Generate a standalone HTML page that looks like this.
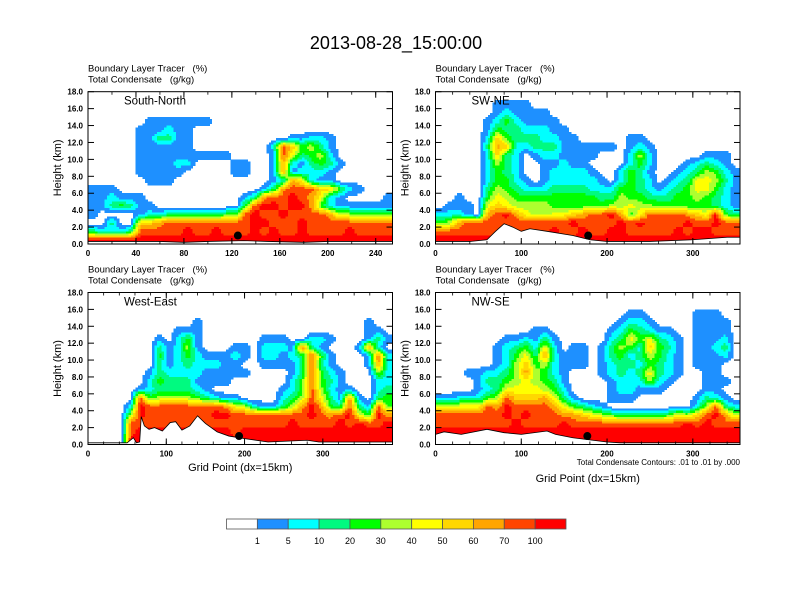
<!DOCTYPE html>
<html><head><meta charset="utf-8"><style>
html,body{margin:0;padding:0;background:#fff;}
svg{display:block;font-family:"Liberation Sans",Arial,sans-serif;}
text{white-space:pre;}
</style></head><body>
<svg id="chart" width="792" height="612" viewBox="0 0 792 612" xmlns="http://www.w3.org/2000/svg">
<text x="396" y="49" font-size="18" text-anchor="middle">2013-08-28_15:00:00</text>
<g id="panels"></g>
<g id="colorbar"></g>
</svg>
<script>
// ---- color levels ----
const levelColors = ["#ffffff","#1e90ff","#00ffff","#00fa80","#00ff00","#adff2f","#ffff00","#ffd700","#ffa500","#ff4500","#ff0000"];
const levelLabels = ["1","5","10","20","30","40","50","60","70","100"];

// ---- panel data: rows from 17-18 km (top) down to 0-1 km; codes 0..a = level index ----
const snRows = [
"00000000000000000000000000000000",
"00000000000000000000000000000000",
"00000000000000000000000000000000",
"00000011111110000000000000000000",
"00000111211000000000000000000000",
"00000113311000000000011221000000",
"00000111111000000002974531000000",
"00000111111111100001963452000000",
"00000111122000011001821343100000",
"00000111110000011001812221000000",
"00000011100000000001286211000000",
"11100000000000000013899977421000",
"112111000000000013899a9862100001",
"113431100000000049aa9aa842111111",
"10000122333333449a99a99998554444",
"00300778999999999aa999a999999999",
"3222399999a99a999a9a99a9999a9999",
"aaaaaaaaaaaaaaaaaaaaaaaaaaaaaaaa"
];
const swneRows = [
"00000000000000000000000000000000",
"00000011110000000000000000000000",
"00000012111100000000000000000000",
"00000124211110000000000000000000",
"00000143322211000000000000000000",
"00000274333221100000110000000000",
"00000387223331111110121000000000",
"00000273201221111000252000001110",
"00000253200112110000242000123210",
"00000243200122221002431001235421",
"00000244210122222102432012366531",
"00000354322233332224432123466421",
"00100465444444444335443334454321",
"01110676555544444455655444444321",
"2221089a8655667899a8469999876a43",
"45899999999999a9999a9a9999a99a99",
"9999999a9999a99a99aa99999a9aa999",
"aaaaaaaaaaaaaaaaaaaaaaaaaaaaaaaa"
];
const weRows = [
"00000000000000000000000000000000",
"00000000000000000000000000000000",
"00000000000000000000000000000000",
"00000000000100000000000000000100",
"00000000011100000000000000000110",
"00000001024100000011100221000131",
"00000003125100011022219310001820",
"00000004124211121022123941000192",
"00000003123222110011113931000182",
"00000013222211111000013942100052",
"00000024333111100000024943100022",
"00000123333210000000124952110023",
"00000945555432110000235963181034",
"00002a99999999865211358a84393194",
"00005a9999999aa99999999a989a64a8",
"00009999999a999999999a9999a9a99a",
"00009aaaaaaaaaa9aaaaaaaaaaaaaaaa",
"0000aaaaaaaaaaaaaaaaaaaaaaaaaaaa"
];
const nwseRows = [
"00000000000000000000000000000000",
"00000000000000000000000000000000",
"00000000000000000000110000011100",
"00000000000000000001221000011110",
"00000000001100000012432110011110",
"00000001121310000023646321011120",
"00000012342620110135427431011230",
"00000012463821110134235421011120",
"00000012574521110123324321011100",
"00011223585421000123236321001100",
"00001334565431000012225210001110",
"00001236666542000012211100001100",
"11222459777863100011100000013210",
"5566698a999986432100000000025932",
"9999999a9a9998876543333346579a85",
"99999999a9999a999999999999a9a999",
"aaaaaaaaaaaaaaaaaaaaaaaaaaaaaaaa",
"aaaaaaaaaaaaaaaaaaaaaaaaaaaaaaaa"
];

// ---- terrain heights (km) along grid points ----
const snTerrainX = [0,60,80,100,130,150,180,200,254];
const snTerrainH = [0.3,0.3,0.2,0.3,0.4,0.3,0.2,0.3,0.3];
const swneTerrainX = [0,40,60,70,80,90,100,110,130,160,180,200,250,300,340,355];
const swneTerrainH = [0.3,0.3,0.5,1.5,2.4,2.0,1.5,1.8,1.5,1.0,0.5,0.3,0.3,0.5,0.8,0.8];
const weTerrainX = [0,50,58,62,66,68,72,78,85,95,105,112,120,130,140,150,165,180,200,230,280,295,389];
const weTerrainH = [0.2,0.2,0.8,0.2,0.3,3.3,2.2,1.8,2.0,1.6,2.6,2.7,1.7,2.2,3.4,2.5,1.5,1.0,0.7,0.3,0.5,0.3,0.3];
const nwseTerrainX = [0,10,30,60,80,100,130,140,160,200,215,355];
const nwseTerrainH = [1.2,1.5,1.2,1.8,1.4,1.2,1.6,1.2,0.8,0.3,0.2,0.2];

// ---- site markers ----
const siteX = [125,178,193,177];
const siteH = [1.0,1.0,1.0,1.0];

// ---- axes ----
const yTickValues = [0,2,4,6,8,10,12,14,16,18];
const yTickLabels = ["0.0","2.0","4.0","6.0","8.0","10.0","12.0","14.0","16.0","18.0"];
const snXTicks = [0,40,80,120,160,200,240];
const xTicks300 = [0,100,200,300];
const panelTitles = ["South-North","SW-NE","West-East","NW-SE"];

const NS = "http://www.w3.org/2000/svg";
function mk(tag, attrs, parent){
  const e = document.createElementNS(NS, tag);
  for (const k in attrs) e.setAttribute(k, attrs[k]);
  if (parent) parent.appendChild(e);
  return e;
}

const panelsG = document.getElementById('panels');
const geoms = [
  {x0:88,x1:392.5,y0:91.7,y1:244,xmax:254,ticks:snXTicks,minor:20,rows:snRows,tx:snTerrainX,th:snTerrainH,xlabel:null},
  {x0:435.5,x1:740,y0:91.7,y1:244,xmax:355,ticks:xTicks300,minor:20,rows:swneRows,tx:swneTerrainX,th:swneTerrainH,xlabel:null},
  {x0:88,x1:392.5,y0:292.5,y1:444.5,xmax:389,ticks:xTicks300,minor:20,rows:weRows,tx:weTerrainX,th:weTerrainH,xlabel:467},
  {x0:435.5,x1:740,y0:292.5,y1:444.5,xmax:355,ticks:xTicks300,minor:20,rows:nwseRows,tx:nwseTerrainX,th:nwseTerrainH,xlabel:478}
];
const names = ["south-north","sw-ne","west-east","nw-se"];
const SUB = 4;

geoms.forEach((g, p) => {
  const xs = v => g.x0 + (g.x1 - g.x0) * v / g.xmax;
  const ys = h => g.y1 - (g.y1 - g.y0) * h / 18;
  const pg = mk('g', {}, panelsG);
  
  

  const clipId = 'clip' + p;
  const cp = mk('clipPath', {id: clipId}, pg);
  mk('rect', {x:g.x0, y:g.y0, width:g.x1-g.x0, height:g.y1-g.y0}, cp);

  const clipG = mk('g', {'clip-path':'url(#'+clipId+')'}, pg);
  const heat = mk('g', {'shape-rendering':'crispEdges'}, clipG);
  
  
  const ncol = 32, nrow = g.rows.length;
  const grid = g.rows.map(r => {
    const a = [];
    for (let c = 0; c < ncol; c++) { const ch = r[c] !== undefined ? r[c] : r[r.length-1]; a.push(parseInt(ch, 16) || 0); }
    return a;
  });
  const val = (r, c) => grid[Math.max(0, Math.min(nrow-1, r))][Math.max(0, Math.min(ncol-1, c))];
  const interp = (fy, fx) => {
    const r0 = Math.floor(fy), c0 = Math.floor(fx), ty = fy - r0, tx = fx - c0;
    return val(r0,c0)*(1-ty)*(1-tx) + val(r0,c0+1)*(1-ty)*tx + val(r0+1,c0)*ty*(1-tx) + val(r0+1,c0+1)*ty*tx;
  };
  const nx = ncol*SUB, ny = nrow*SUB;
  const cw = (g.x1 - g.x0) / nx, chh = (g.y1 - g.y0) / ny;
  for (let j = 0; j < ny; j++) {
    const fy = (j + 0.5) / SUB - 0.5;
    let start = 0, cur = -1;
    for (let i = 0; i <= nx; i++) {
      let lv = -2;
      if (i < nx) { const fx = (i + 0.5) / SUB - 0.5; lv = Math.round(interp(fy, fx)); }
      if (lv !== cur) {
        if (cur > 0) {
          const cell = mk('rect', {x:g.x0 + start*cw, y:g.y0 + j*chh, width:(i-start)*cw + 0.5, height:chh + 0.5, fill:levelColors[cur]}, heat);
          
          
        }
        cur = lv; start = i;
      }
    }
  }
  let d = 'M' + xs(0) + ',' + ys(0);
  g.tx.forEach((v, i) => { d += ' L' + xs(v) + ',' + ys(g.th[i]); });
  d += ' L' + xs(g.xmax) + ',' + ys(0) + ' Z';
  const ter = mk('path', {d:d, fill:'#fff', stroke:'#000', 'stroke-width':0.8}, clipG);
  
  
  const dot = mk('circle', {cx:xs(siteX[p]), cy:ys(siteH[p]), r:4, fill:'#000'}, clipG);
  
  

  const fr = mk('rect', {x:g.x0, y:g.y0, width:g.x1-g.x0, height:g.y1-g.y0, fill:'none', stroke:'#000', 'stroke-width':1}, pg);
  
  

  yTickValues.forEach((v, i) => {
    const y = ys(v);
    mk('line', {x1:g.x0, x2:g.x0+6, y1:y, y2:y, stroke:'#000', 'stroke-width':1}, pg);
    mk('line', {x1:g.x1, x2:g.x1-6, y1:y, y2:y, stroke:'#000', 'stroke-width':1}, pg);
    const t = mk('text', {x:g.x0-5, y:y+3, 'font-size':8, 'text-anchor':'end', 'font-weight':'bold'}, pg);
    t.textContent = yTickLabels[i];
    
    
  });
  for (let v = 0; v <= g.xmax; v += g.minor) {
    const x = xs(v);
    mk('line', {x1:x, x2:x, y1:g.y1, y2:g.y1-3, stroke:'#000', 'stroke-width':0.8}, pg);
    mk('line', {x1:x, x2:x, y1:g.y0, y2:g.y0+3, stroke:'#000', 'stroke-width':0.8}, pg);
  }
  g.ticks.forEach(v => {
    const x = xs(v);
    mk('line', {x1:x, x2:x, y1:g.y1, y2:g.y1-6, stroke:'#000', 'stroke-width':1}, pg);
    mk('line', {x1:x, x2:x, y1:g.y0, y2:g.y0+6, stroke:'#000', 'stroke-width':1}, pg);
    const t = mk('text', {x:x, y:g.y1+12, 'font-size':8, 'text-anchor':'middle', 'font-weight':'bold'}, pg);
    t.textContent = String(v);
    
    
  });
  const l1 = mk('text', {x:g.x0, y:g.y0-20, 'font-size':9.5}, pg);
  l1.textContent = 'Boundary Layer Tracer   (%)';
  
  
  const l2 = mk('text', {x:g.x0, y:g.y0-9, 'font-size':9.5}, pg);
  l2.textContent = 'Total Condensate   (g/kg)';
  
  
  const pt = mk('text', {x:g.x0 + 36, y:g.y0 + 13, 'font-size':11.5}, pg);
  pt.textContent = panelTitles[p];
  
  
  const yc = (g.y0 + g.y1) / 2;
  const ya = mk('text', {x:g.x0-27, y:yc, 'font-size':11, 'text-anchor':'middle', transform:'rotate(-90 '+(g.x0-27)+' '+yc+')'}, pg);
  ya.textContent = 'Height (km)';
  
  
  if (g.xlabel) {
    const xl = mk('text', {x:(g.x0+g.x1)/2, y:g.xlabel+4, 'font-size':11, 'text-anchor':'middle'}, pg);
    xl.textContent = 'Grid Point (dx=15km)';
    
    
  }
});
const note = mk('text', {x:740, y:465, 'font-size':8, 'text-anchor':'end'}, panelsG);
note.textContent = 'Total Condensate Contours: .01 to .01 by .000';



const cb = document.getElementById('colorbar');
const cbX0 = 226.5, cbX1 = 566, cbY = 519, cbH = 10;
const bw = (cbX1 - cbX0) / levelColors.length;
levelColors.forEach((c, i) => {
  const r = mk('rect', {x:cbX0 + i*bw, y:cbY, width:bw, height:cbH, fill:c, stroke:'#555', 'stroke-width':0.8}, cb);
  
  
});
levelLabels.forEach((s, i) => {
  const t = mk('text', {x:cbX0 + (i+1)*bw, y:544, 'font-size':9, 'text-anchor':'middle'}, cb);
  t.textContent = s;
  
  
});
</script>
</body></html>
